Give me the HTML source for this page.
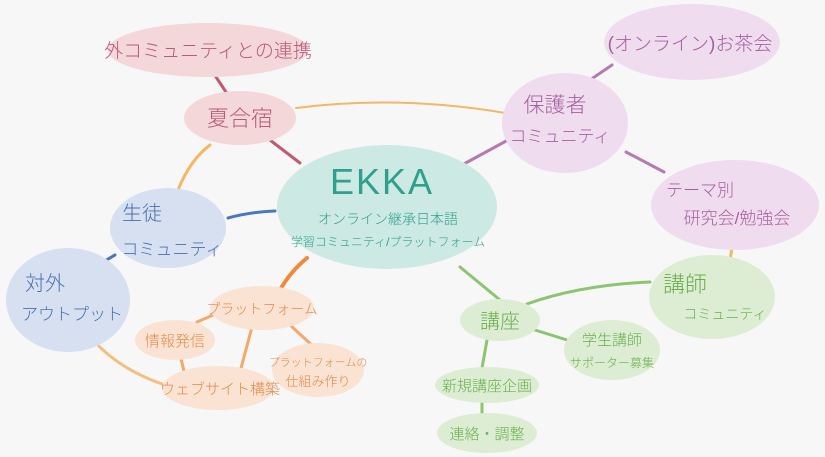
<!DOCTYPE html>
<html><head><meta charset="utf-8"><style>
html,body{margin:0;padding:0;background:#f7f7f8;}
svg{display:block}
text{font-family:"Liberation Sans","Noto Sans CJK JP",sans-serif;font-weight:300;text-anchor:middle;}
</style></head><body>
<svg width="825" height="457" viewBox="0 0 825 457" xmlns="http://www.w3.org/2000/svg">
<rect width="825" height="457" fill="#f7f7f8"/>
<g fill="none" stroke-linecap="round">
<path d="M210 68 L226 92" stroke="#c05a72" stroke-width="3"/>
<path d="M266 137 L300 163" stroke="#c05a72" stroke-width="3"/>
<path d="M296 108 Q400 95 505 113" stroke="#f2b866" stroke-width="2"/>
<path d="M210 145 Q190 160 178 190" stroke="#f2b866" stroke-width="3"/>
<path d="M228 218 Q250 212 275 211" stroke="#4a78c0" stroke-width="3"/>
<path d="M84 278 Q98 264 115 255" stroke="#4a78c0" stroke-width="3"/>
<path d="M462 165 L508 140" stroke="#b57bb0" stroke-width="3"/>
<path d="M590 80 L612 65" stroke="#b57bb0" stroke-width="3"/>
<path d="M626 152 L664 172" stroke="#b57bb0" stroke-width="3"/>
<path d="M732 248 L730 260" stroke="#f2b866" stroke-width="3"/>
<path d="M527 304 Q580 285 650 282" stroke="#8cc470" stroke-width="3"/>
<path d="M460 267 L500 300" stroke="#8cc470" stroke-width="3"/>
<path d="M535 330 L567 340" stroke="#8cc470" stroke-width="3"/>
<path d="M487 340 L482 368" stroke="#8cc470" stroke-width="3"/>
<path d="M482 398 L482 418" stroke="#8cc470" stroke-width="3"/>
<path d="M307 258 Q290 272 280 290" stroke="#f08a3a" stroke-width="4"/>
<path d="M220 312 L197 322" stroke="#f4a86a" stroke-width="3"/>
<path d="M252 327 L240 372" stroke="#f4a86a" stroke-width="3"/>
<path d="M290 325 L315 348" stroke="#f4a86a" stroke-width="3"/>
<path d="M180 355 L185 375" stroke="#f4a86a" stroke-width="3"/>
<path d="M93 340 Q120 370 165 385" stroke="#f2c080" stroke-width="3"/>
</g>
<g>
<ellipse cx="208" cy="50" rx="100" ry="27" fill="#f4d7d9"/>
<ellipse cx="240" cy="118" rx="56" ry="27" fill="#f4d7d9"/>
<ellipse cx="387" cy="207" rx="110" ry="62" fill="#cde9e4"/>
<ellipse cx="565" cy="123" rx="63" ry="50" fill="#efdcee"/>
<ellipse cx="692" cy="42" rx="88" ry="38" fill="#efdcee"/>
<ellipse cx="735" cy="205" rx="84" ry="45" fill="#efdcee"/>
<ellipse cx="712" cy="297" rx="63" ry="42" fill="#dcedd4"/>
<ellipse cx="500" cy="320" rx="40" ry="21" fill="#dcedd4"/>
<ellipse cx="612" cy="350" rx="48" ry="30" fill="#dcedd4"/>
<ellipse cx="487" cy="385" rx="52" ry="18" fill="#dcedd4"/>
<ellipse cx="487" cy="433" rx="50" ry="20" fill="#dcedd4"/>
<ellipse cx="168" cy="228" rx="58" ry="40" fill="#d6e0f1"/>
<ellipse cx="68" cy="300" rx="62" ry="52" fill="#d6e0f1"/>
<ellipse cx="262" cy="308" rx="52" ry="22" fill="#fbe3d3"/>
<ellipse cx="175" cy="340" rx="40" ry="20" fill="#fbe3d3"/>
<ellipse cx="218" cy="388" rx="56" ry="22" fill="#fbe3d3"/>
<ellipse cx="318" cy="370" rx="46" ry="27" fill="#fbe3d3"/>
</g>
<g fill="#b85a78">
<text x="208" y="57" font-size="19">外コミュニティとの連携</text>
<text x="240" y="126" font-size="22">夏合宿</text>
</g>
<g fill="#2fa08e">
<text x="382" y="194" font-size="36" font-weight="700" letter-spacing="2">EKKA</text>
<text x="388" y="224" font-size="14">オンライン継承日本語</text>
<text x="388" y="246" font-size="12">学習コミュニティ/プラットフォーム</text>
</g>
<g fill="#a65fa0">
<text x="555" y="112" font-size="21">保護者</text>
<text x="560" y="142" font-size="17">コミュニティ</text>
<text x="690" y="50" font-size="19">(オンライン)お茶会</text>
<text x="700" y="196" font-size="17">テーマ別</text>
<text x="737" y="224" font-size="17">研究会/勉強会</text>
</g>
<g fill="#6aae4c">
<text x="685" y="292" font-size="22">講師</text>
<text x="725" y="319" font-size="14">コミュニティ</text>
<text x="500" y="328" font-size="20">講座</text>
<text x="612" y="345" font-size="15">学生講師</text>
<text x="612" y="367" font-size="12">サポーター募集</text>
<text x="487" y="391" font-size="15">新規講座企画</text>
<text x="487" y="439" font-size="15">連絡・調整</text>
</g>
<g fill="#4a6fb0">
<text x="142" y="220" font-size="20">生徒</text>
<text x="172" y="255" font-size="17">コミュニティ</text>
<text x="45" y="290" font-size="20">対外</text>
<text x="72" y="320" font-size="17">アウトプット</text>
</g>
<g fill="#e08a48">
<text x="262" y="314" font-size="14">プラットフォーム</text>
<text x="175" y="346" font-size="15">情報発信</text>
<text x="220" y="394" font-size="15">ウェブサイト構築</text>
<text x="318" y="366" font-size="11">プラットフォームの</text>
<text x="318" y="386" font-size="13">仕組み作り</text>
</g>
</svg>
</body></html>
